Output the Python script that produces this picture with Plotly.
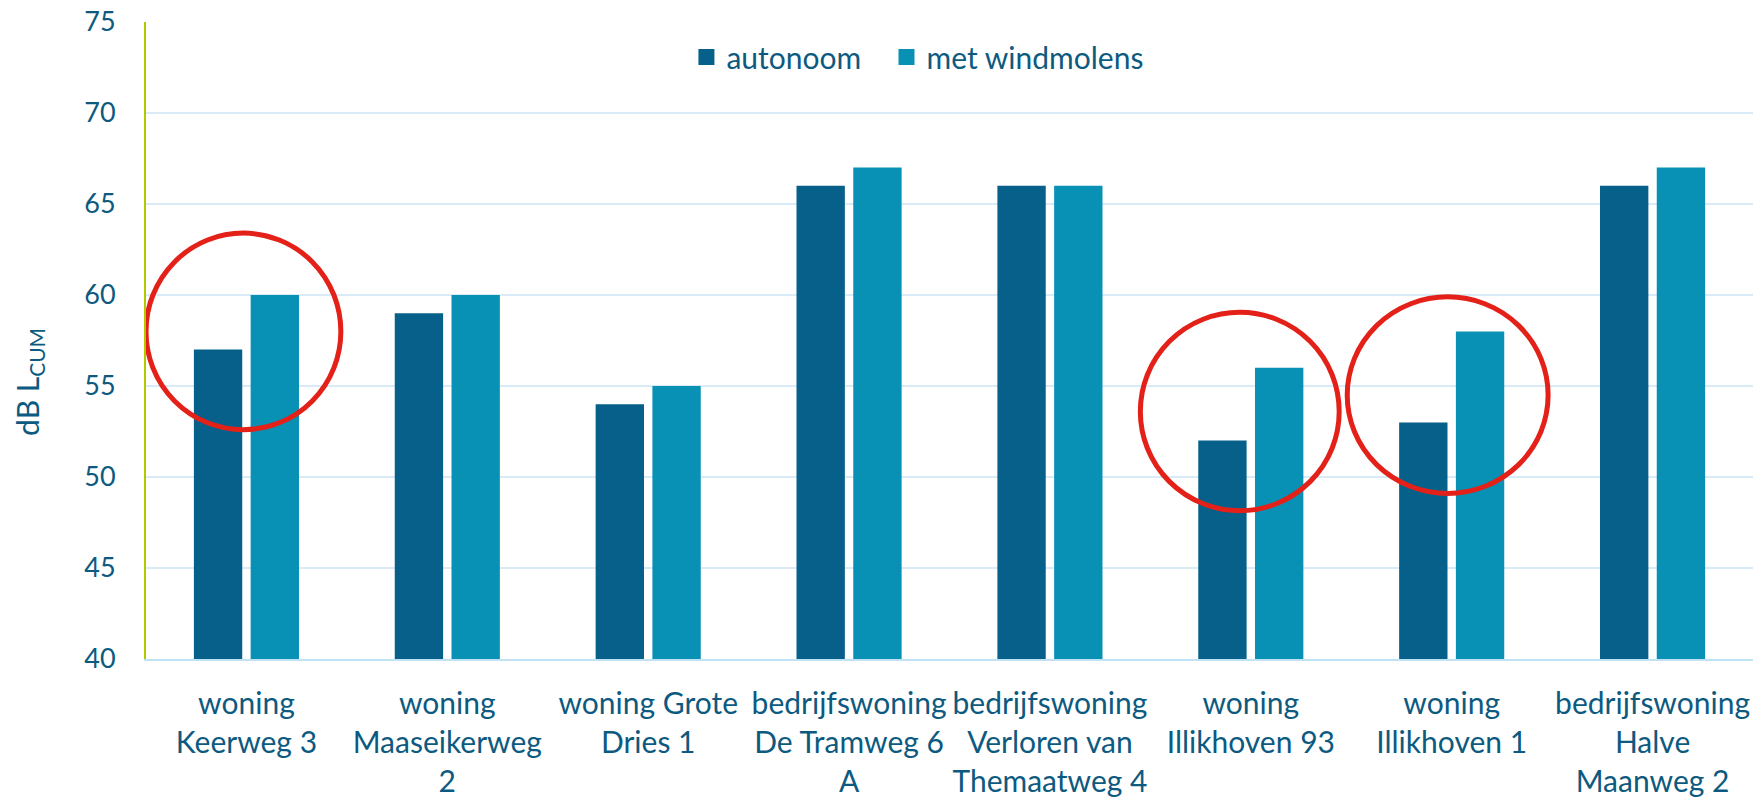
import plotly.graph_objects as go

categories = [
    "woning<br>Keerweg 3",
    "woning<br>Maaseikerweg<br>2",
    "woning Grote<br>Dries 1",
    "bedrijfswoning<br>De Tramweg 6<br>A",
    "bedrijfswoning<br>Verloren van<br>Themaatweg 4",
    "woning<br>Illikhoven 93",
    "woning<br>Illikhoven 1",
    "bedrijfswoning<br>Halve<br>Maanweg 2",
]
series_names = ["autonoom", "met windmolens"]
autonoom = [57, 59, 54, 66, 66, 52, 53, 66]
met_windmolens = [60, 60, 55, 67, 66, 56, 58, 67]
y_ticks = [40, 45, 50, 55, 60, 65, 70, 75]

# highlighted groups (category index, ellipse extents)
highlights = [
    (0, -0.50, 0.47, 52.6, 63.4),
    (5, -0.55, 0.44, 48.15, 59.05),
    (6, -0.52, 0.48, 49.1, 59.9),
]

TEXT = "#0d5a80"
DARK = "#06608a"
LIGHT = "#0891b5"
colors = [DARK, LIGHT]
legend_ids = ["legend", "legend2"]

xs = list(range(len(categories)))
fig = go.Figure()
for name, vals, col in zip(series_names, [autonoom, met_windmolens], colors):
    fig.add_trace(go.Bar(name=name, x=xs, y=vals, base=0, showlegend=False,
                         marker=dict(color=col, line=dict(width=0))))
# legend entries with larger square swatches
for name, col, lg in zip(series_names, colors, legend_ids):
    fig.add_trace(go.Scatter(name=name, x=[None], y=[None], mode="markers",
                             marker=dict(symbol="square", size=19, color=col),
                             showlegend=True, legend=lg, hoverinfo="skip"))

for idx, dx0, dx1, y0, y1 in highlights:
    fig.add_shape(type="circle", xref="x", yref="y",
                  x0=idx + dx0, x1=idx + dx1, y0=y0, y1=y1,
                  line=dict(color="#e32119", width=5), layer="above")

fig.add_annotation(text="dB L<sub>CUM</sub>", xref="paper", yref="paper",
                   x=-0.0728, y=0.435, xanchor="center", yanchor="middle",
                   textangle=-90, showarrow=False,
                   font=dict(family="Lato", size=30, color=TEXT))

legend_style = dict(orientation="h", y=0.945, xanchor="left", yanchor="middle",
                    font=dict(size=30, color=TEXT, family="Lato"),
                    bgcolor="rgba(0,0,0,0)", borderwidth=0)

fig.update_layout(
    width=1760, height=797,
    margin=dict(l=146, r=7, t=22, b=138, autoexpand=False),
    plot_bgcolor="white", paper_bgcolor="white",
    barmode="group", bargap=0.435, bargroupgap=0.148,
    font=dict(family="Lato", color=TEXT, size=30),
    legend=dict(x=0.3363, **legend_style),
    legend2=dict(x=0.4608, **legend_style),
    showlegend=True,
)
fig.update_xaxes(
    tickmode="array", tickvals=xs, ticktext=categories,
    range=[-0.5, len(categories) - 0.5], automargin=False,
    showgrid=False, showline=True, linecolor="#bfe2f5", linewidth=2,
    ticks="", ticklabelstandoff=17,
    tickfont=dict(family="Lato", size=30, color=TEXT), zeroline=False,
)
fig.update_yaxes(
    range=[40, 75], tickmode="array", tickvals=y_ticks, automargin=False,
    showgrid=True, gridcolor="#d8ebf6", gridwidth=2,
    showline=True, linecolor="#b4c800", linewidth=2,
    ticks="outside", ticklen=23, tickcolor="rgba(0,0,0,0)",
    ticklabeloverflow="allow",
    tickfont=dict(family="Lato", size=27, color=TEXT), zeroline=False,
)

fig.write_html("out.html", config={"displayModeBar": False},
               post_script="document.body.style.margin='0';")
